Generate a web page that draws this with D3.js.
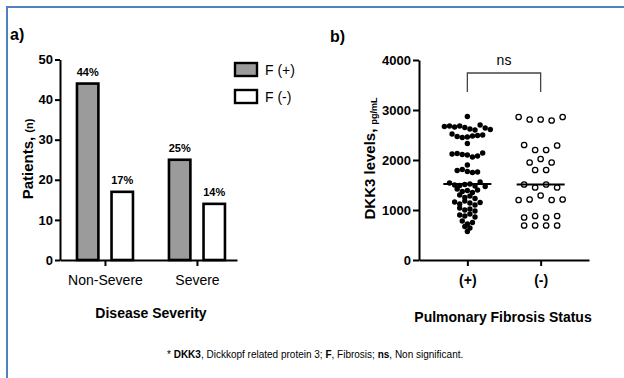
<!DOCTYPE html>
<html>
<head>
<meta charset="utf-8">
<script src="https://cdn.jsdelivr.net/npm/d3@7"></script>
<style>
  body { margin: 0; background: #fff; }
  svg { display: block; font-family: "Liberation Sans", Arial, sans-serif; }
</style>
</head>
<body>
<svg id="chart" width="624" height="378"></svg>
<script>
// ---- panel a: patients by disease severity ----
const severity = ['Non-Severe', 'Severe'];
const fibrosis = ['F (+)', 'F (-)'];
const fPlus = [44, 25];
const fMinus = [17, 14];
const fPlusPct = ['44%', '25%'];
const fMinusPct = ['17%', '14%'];
const countTicks = [0, 10, 20, 30, 40, 50];

// ---- panel b: DKK3 levels (pg/mL), listed row by row, left to right ----
const statusGroups = ['(+)', '(-)'];
const dkk3Plus = [
  2870,
  2670, 2680, 2660, 2680, 2650, 2620, 2600, 2700, 2640, 2610,
  2520, 2470, 2450, 2460, 2480, 2490, 2500,
  2330,
  2120, 2130, 2110, 2100, 2060, 2080, 2140,
  1900,
  1790, 1810, 1770, 1750, 1760,
  1540, 1500, 1490, 1510, 1520, 1480, 1560, 1470,
  1420, 1370, 1390, 1350, 1400,
  1300, 1250, 1280, 1230,
  1160, 1120, 1180, 1140, 1100, 1150,
  1040, 1000, 1020, 980,
  900, 880, 920, 860,
  780, 720, 750,
  670, 640,
  570
];
const dkk3Minus = [
  2860, 2810, 2810, 2790, 2860,
  2300, 2200, 2200, 2290,
  1950, 2020, 1950,
  1800, 1800,
  1510, 1450, 1510, 1450,
  1200, 1210, 1290, 1200, 1210,
  850, 880, 850, 880,
  690, 690, 690, 690
];
const dkk3Ticks = [0, 1000, 2000, 3000, 4000];

const svg = d3.select('#chart');

// frame (only top and left edges fall inside the picture)
svg.append('rect')
  .attr('x', 7).attr('y', 7).attr('width', 700).attr('height', 500)
  .attr('fill', 'none').attr('stroke', '#4f81bd').attr('stroke-width', 2);

function styleAxis(g, fontSize, weight) {
  g.select('.domain').attr('stroke', '#000').attr('stroke-width', 2);
  g.selectAll('.tick line').attr('stroke', '#000').attr('stroke-width', 2);
  g.selectAll('.tick text')
    .attr('fill', '#000')
    .style('font-size', fontSize + 'px')
    .style('font-weight', weight)
    .style('font-family', '"Liberation Sans", Arial, sans-serif');
}

// ================= panel a =================
const ya = d3.scaleLinear().domain([0, 50]).range([260, 59.5]);
const xa = d3.scalePoint().domain(severity).range([60, 237]).padding(0.462).align(0.529);
const xSub = d3.scaleBand().domain(fibrosis).range([-28, 28]).paddingInner(0.38);
const fillFor = d3.scaleOrdinal().domain(fibrosis).range(['#9b9b9b', '#ffffff']);

const barData = severity.flatMap((s, i) => [
  { cat: s, key: fibrosis[0], value: fPlus[i], label: fPlusPct[i] },
  { cat: s, key: fibrosis[1], value: fMinus[i], label: fMinusPct[i] }
]);

const panelA = svg.append('g');

panelA.selectAll('rect.bar')
  .data(barData)
  .enter()
  .append('rect')
  .attr('class', 'bar')
  .attr('x', (d) => xa(d.cat) + xSub(d.key))
  .attr('y', (d) => ya(d.value))
  .attr('width', xSub.bandwidth())
  .attr('height', (d) => ya(0) - ya(d.value))
  .attr('fill', (d) => fillFor(d.key))
  .attr('stroke', '#000')
  .attr('stroke-width', 2.6);

panelA.selectAll('text.pct')
  .data(barData)
  .enter()
  .append('text')
  .attr('class', 'pct')
  .attr('x', (d) => xa(d.cat) + xSub(d.key) + xSub.bandwidth() / 2)
  .attr('y', (d) => ya(d.value) - 8)
  .attr('text-anchor', 'middle')
  .style('font-size', '11px')
  .style('font-weight', 'bold')
  .text((d) => d.label);

panelA.append('g')
  .attr('transform', `translate(60,0)`)
  .call(d3.axisLeft(ya).tickValues(countTicks).tickSize(5).tickPadding(2).tickSizeOuter(0))
  .call((g) => styleAxis(g, 13, 'bold'));

panelA.append('g')
  .attr('transform', `translate(0,${ya(0)})`)
  .call(d3.axisBottom(xa).tickSize(6).tickPadding(9).tickSizeOuter(0))
  .call((g) => styleAxis(g, 14, 'normal'));

// legend
const legend = panelA.selectAll('g.legend')
  .data(fibrosis)
  .enter()
  .append('g')
  .attr('class', 'legend')
  .attr('transform', (d, i) => `translate(235,${63 + i * 27})`);
legend.append('rect')
  .attr('width', 22).attr('height', 13)
  .attr('fill', (d) => fillFor(d))
  .attr('stroke', '#000').attr('stroke-width', 2.4);
legend.append('text')
  .attr('x', 30).attr('y', 12)
  .style('font-size', '14px')
  .text((d) => d);

// titles
const yTitleA = panelA.append('text')
  .attr('transform', 'translate(33,159) rotate(-90)')
  .attr('text-anchor', 'middle')
  .style('font-weight', 'bold')
  .style('font-size', '15px');
yTitleA.append('tspan').text('Patients, ');
yTitleA.append('tspan').style('font-size', '11px').text('(n)');

panelA.append('text')
  .attr('x', 151).attr('y', 318)
  .attr('text-anchor', 'middle')
  .style('font-weight', 'bold')
  .style('font-size', '14px')
  .text('Disease Severity');

panelA.append('text')
  .attr('x', 10).attr('y', 40)
  .style('font-weight', 'bold')
  .style('font-size', '16px')
  .text('a)');

// ================= panel b =================
const yb = d3.scaleLinear().domain([0, 4000]).range([260, 60]);
const xb = d3.scalePoint().domain(statusGroups).range([419, 589]).padding(0.66);

// group points into rows of similar value and centre each row on the group
function rowLayout(values, bin, spacing) {
  const rows = [];
  let row = null;
  values.forEach((v) => {
    if (!row || Math.abs(v - row[0]) > bin) {
      row = [];
      rows.push(row);
    }
    row.push(v);
  });
  return rows.flatMap((r) => r.map((v, i) => ({ value: v, offset: (i - (r.length - 1) / 2) * spacing })));
}

const panelB = svg.append('g');

const plusPts = rowLayout(dkk3Plus, 90, 5.1);
const minusPts = rowLayout(dkk3Minus, 110, 11);

panelB.selectAll('circle.plus')
  .data(plusPts)
  .enter()
  .append('circle')
  .attr('class', 'plus')
  .attr('cx', (d) => xb('(+)') + d.offset)
  .attr('cy', (d) => yb(d.value))
  .attr('r', 2.7)
  .attr('fill', '#000');

panelB.selectAll('circle.minus')
  .data(minusPts)
  .enter()
  .append('circle')
  .attr('class', 'minus')
  .attr('cx', (d) => xb('(-)') + d.offset)
  .attr('cy', (d) => yb(d.value))
  .attr('r', 2.7)
  .attr('fill', '#fff')
  .attr('stroke', '#000')
  .attr('stroke-width', 1.3);

// medians
const medians = [
  { group: '(+)', value: d3.median(dkk3Plus) },
  { group: '(-)', value: d3.median(dkk3Minus) }
];
panelB.selectAll('line.median')
  .data(medians)
  .enter()
  .append('line')
  .attr('class', 'median')
  .attr('x1', (d) => xb(d.group) - 24)
  .attr('x2', (d) => xb(d.group) + 24)
  .attr('y1', (d) => yb(d.value))
  .attr('y2', (d) => yb(d.value))
  .attr('stroke', '#000')
  .attr('stroke-width', 2.2);

panelB.append('g')
  .attr('transform', `translate(419,0)`)
  .call(d3.axisLeft(yb).tickValues(dkk3Ticks).tickFormat(d3.format('d')).tickSize(6).tickPadding(2).tickSizeOuter(0))
  .call((g) => styleAxis(g, 13, 'bold'));

panelB.append('g')
  .attr('transform', `translate(0,${yb(0)})`)
  .call(d3.axisBottom(xb).tickSize(6).tickPadding(9).tickSizeOuter(0))
  .call((g) => styleAxis(g, 14, 'bold'));

// significance bracket
const bx1 = xb('(+)');
const bx2 = xb('(-)');
panelB.append('path')
  .attr('d', `M${bx1},92V73H${bx2}V92`)
  .attr('fill', 'none')
  .attr('stroke', '#444')
  .attr('stroke-width', 1.3);
panelB.append('text')
  .attr('x', (bx1 + bx2) / 2).attr('y', 65)
  .attr('text-anchor', 'middle')
  .style('font-size', '14px')
  .text('ns');

const yTitleB = panelB.append('text')
  .attr('transform', 'translate(375,158.5) rotate(-90)')
  .attr('text-anchor', 'middle')
  .style('font-weight', 'bold')
  .style('font-size', '15px');
yTitleB.append('tspan').text('DKK3 levels, ');
yTitleB.append('tspan').attr('dy', 2).style('font-size', '9px').text('pg/mL');

panelB.append('text')
  .attr('x', 503).attr('y', 322)
  .attr('text-anchor', 'middle')
  .style('font-weight', 'bold')
  .style('font-size', '14px')
  .text('Pulmonary Fibrosis Status');

panelB.append('text')
  .attr('x', 330).attr('y', 42)
  .style('font-weight', 'bold')
  .style('font-size', '16px')
  .text('b)');

// footnote
const note = svg.append('text')
  .attr('x', 167).attr('y', 358)
  .style('font-size', '10px');
note.append('tspan').text('* ');
note.append('tspan').style('font-weight', 'bold').text('DKK3');
note.append('tspan').text(', Dickkopf related protein 3; ');
note.append('tspan').style('font-weight', 'bold').text('F');
note.append('tspan').text(', Fibrosis; ');
note.append('tspan').style('font-weight', 'bold').text('ns');
note.append('tspan').text(', Non significant.');
</script>
</body>
</html>
